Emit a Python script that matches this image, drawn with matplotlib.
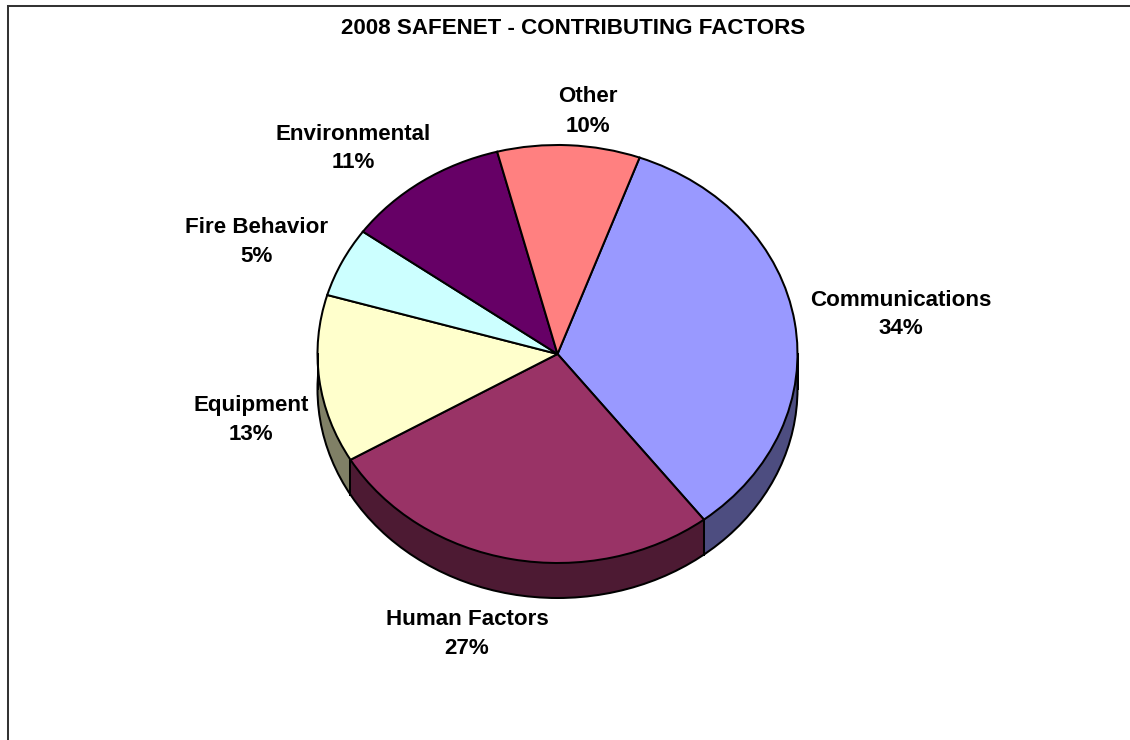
import matplotlib
matplotlib.use("Agg")
import numpy as np
import matplotlib.pyplot as plt
from matplotlib.colors import to_rgb
from matplotlib.patches import Ellipse

categories = ["Communications", "Human Factors", "Equipment", "Fire Behavior", "Environmental", "Other"]
values = [34, 27, 13, 5.4, 11, 9.6]
percent_labels = ["34%", "27%", "13%", "5%", "11%", "10%"]
colors = ["#9999FF", "#993366", "#FFFFCC", "#CCFFFF", "#660066", "#FF8080"]
title = "2008 SAFENET - CONTRIBUTING FACTORS"
label_px = [(901, 314.5), (467, 634), (251, 419.5), (257, 242), (353, 148.5), (588, 111.5)]
start_angle = 70

W, H = 1130, 740
plt.rcParams["font.family"] = ["Liberation Sans", "DejaVu Sans"]
fig = plt.figure(figsize=(W / 100, H / 100), dpi=100, facecolor="white")

cx, cy, rx, ry, depth = 557.5, 354, 240, 209, 35
lw = 1.45
ax = fig.add_axes([(cx - 1.25 * rx) / W, 1 - (cy + 1.25 * ry) / H, 2.5 * rx / W, 2.5 * ry / H])
dark = [tuple(c * 0.5 for c in to_rgb(col)) for col in colors]
drop = depth / ry

# extruded side
for d in range(depth, -1, -1):
    ax.pie(values, colors=dark, startangle=start_angle, counterclock=False, center=(0, -d / ry),
           wedgeprops=dict(edgecolor="none", linewidth=0))
ax.add_patch(Ellipse((0, -drop), 2, 2, fill=False, edgecolor="black", linewidth=lw))
ax.plot([-1, -1], [0, -drop], color="black", lw=lw)
ax.plot([1, 1], [0, -drop], color="black", lw=lw)
angles = np.deg2rad(start_angle - 3.6 * np.cumsum(values) / (sum(values) / 100))
for a in angles:
    if np.sin(a) < 0:
        ax.plot([np.cos(a)] * 2, [np.sin(a), np.sin(a) - drop], color="black", lw=lw)
# top face
ax.pie(values, colors=colors, startangle=start_angle, counterclock=False,
       wedgeprops=dict(edgecolor="black", linewidth=lw))
ax.set_aspect("auto")
ax.set_xlim(-1.25, 1.25)
ax.set_ylim(-1.25, 1.25)

# chart frame
bg = fig.add_axes([0, 0, 1, 1], facecolor="none")
bg.set_xlim(0, W)
bg.set_ylim(H, 0)
bg.axis("off")
bg.plot([8, 8], [H, 6], color="#333333", lw=1.45, solid_capstyle="projecting")
bg.plot([8, W], [6, 6], color="#333333", lw=1.45, solid_capstyle="projecting")
bg.text(573, 29, title, ha="center", va="center", fontsize=16.1, fontweight="bold")
for name, pct, (x, y) in zip(categories, percent_labels, label_px):
    bg.text(x, y, f"{name}\n{pct}", ha="center", va="center", fontsize=16.1,
            fontweight="bold", linespacing=1.5)

fig.savefig("out.png", dpi=100)
